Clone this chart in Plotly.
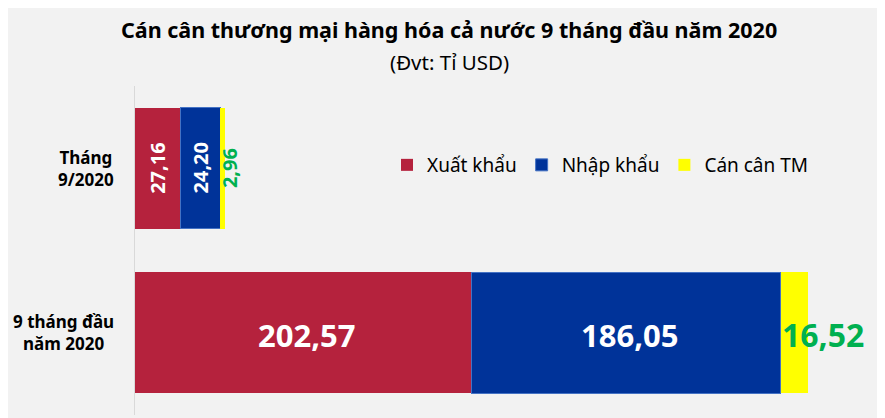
import plotly.graph_objects as go

categories = ["Tháng 9/2020", "9 tháng đầu năm 2020"]
cat_labels = ["<b>Tháng<br>9/2020</b>", "<b>9 tháng đầu<br>năm 2020</b>"]
series_names = ["Xuất khẩu", "Nhập khẩu", "Cán cân TM"]
xuat_khau = [27.16, 202.57]
nhap_khau = [24.20, 186.05]
can_can = [2.96, 16.52]

colors = ["#B5223D", "#003399", "#FFFF00"]
FONT = "Noto Sans"

# page body has an 8px margin; compensate
OFF = 8
W, H = 885 - OFF, 418 - OFF
L, T, B = 135 - OFF, 86 - OFF, 3
PW = W - L
PH = H - T - B

def fmt(v):
    return f"{v:.2f}".replace(".", ",")

fig = go.Figure()
series = [xuat_khau, nhap_khau, can_can]
for name, vals, col in zip(series_names, series, colors):
    line = dict(color="#4472C4", width=1) if name == "Nhập khẩu" else dict(width=0)
    fig.add_trace(go.Bar(
        y=categories, x=vals, name=name, orientation="h",
        marker=dict(color=col, line=line),
        hoverinfo="x+name",
    ))

def px_x(p):  # page px -> paper x
    return (p - OFF - L) / PW

def px_y(p):  # page px -> paper y
    return (H - B - (p - OFF)) / PH

annotations = []
annotations.append(dict(text="<b>Cán cân thương mại hàng hóa cả nước 9 tháng đầu năm 2020</b>",
                        xref="paper", yref="paper", x=px_x(449), y=px_y(30),
                        xanchor="center", yanchor="middle", showarrow=False,
                        font=dict(family=FONT, size=21.5, color="#000000")))
annotations.append(dict(text="(Đvt: Tỉ USD)",
                        xref="paper", yref="paper", x=px_x(449), y=px_y(62),
                        xanchor="center", yanchor="middle", showarrow=False,
                        font=dict(family=FONT, size=20.5, color="#000000")))

for cat, lab in zip(categories, cat_labels):
    annotations.append(dict(text=lab, xref="paper", yref="y", x=px_x(116), y=cat,
                            xanchor="right", yanchor="middle", align="center",
                            showarrow=False, font=dict(family=FONT, size=17, color="#000000")))

for i, cat in enumerate(categories):
    base = 0
    rotated = (i == 0)
    wsize = 20 if rotated else 31
    gsize = 20 if rotated else 32
    for j, vals in enumerate(series):
        v = vals[i]
        if j < 2:
            annotations.append(dict(text=f"<b>{fmt(v)}</b>", x=base + v / 2, y=cat, xref="x", yref="y",
                                    xanchor="center", yanchor="middle", showarrow=False,
                                    xshift=0 if rotated else 4, yshift=0 if rotated else -2,
                                    textangle=-90 if rotated else 0,
                                    font=dict(family=FONT, size=wsize, color="#FFFFFF")))
        else:
            annotations.append(dict(text=f"<b>{fmt(v)}</b>", x=base, y=cat, xref="x", yref="y",
                                    xanchor="left", yanchor="middle", showarrow=False,
                                    xshift=-7 if rotated else -1, yshift=0 if rotated else -2,
                                    textangle=-90 if rotated else 0,
                                    font=dict(family=FONT, size=gsize, color="#00B050")))
        base += v

fig.update_layout(
    width=W, height=H,
    margin=dict(l=L, r=0, t=T, b=B),
    paper_bgcolor="#F2F2F2", plot_bgcolor="#F2F2F2",
    barmode="stack", bargap=0.264,
    showlegend=True,
    legend=dict(orientation="h", x=px_x(387), y=px_y(165),
                xanchor="left", yanchor="middle", bgcolor="rgba(0,0,0,0)",
                font=dict(family=FONT, size=19, color="#000000"), traceorder="normal"),
    xaxis=dict(range=[0, (W - L) / 1.662], showgrid=False, zeroline=False, showticklabels=False,
               showline=False, ticks="", fixedrange=True),
    yaxis=dict(categoryorder="array", categoryarray=categories[::-1],
               showticklabels=False, showgrid=False, zeroline=False,
               showline=True, linecolor="#D9D9D9", linewidth=1, ticks=""),
    annotations=annotations,
    font=dict(family=FONT),
)

fig.write_html("out.html")
